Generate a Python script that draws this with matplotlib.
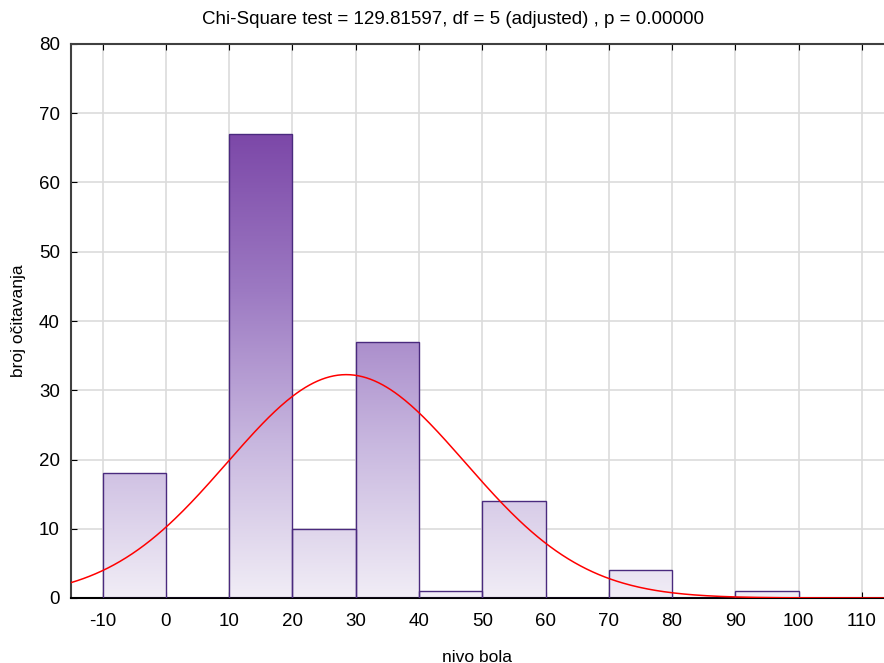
import numpy as np
import matplotlib
matplotlib.use("Agg")
import matplotlib.pyplot as plt
from matplotlib.colors import LinearSegmentedColormap

plt.rcParams["font.family"] = ["Liberation Sans", "DejaVu Sans"]
plt.rcParams["axes.unicode_minus"] = False

# Histogram bins (left edges) and counts
bin_left = [-10, 0, 10, 20, 30, 40, 50, 60, 70, 80, 90, 100]
counts = [18, 0, 67, 10, 37, 1, 14, 0, 4, 0, 1, 0]
bin_width = 10

# fitted normal curve parameters
fit_mean = 28.5
fit_sd = 18.8
n_total = sum(counts)

x_ticks = [-10, 0, 10, 20, 30, 40, 50, 60, 70, 80, 90, 100, 110]
y_ticks = [0, 10, 20, 30, 40, 50, 60, 70, 80]

fig = plt.figure(figsize=(8.84, 6.63), dpi=100)
ax = fig.add_axes([71 / 884, 1 - 598 / 663, 1 - 71 / 884, (598 - 44) / 663])

ax.set_xlim(-15, 113.5)
ax.set_ylim(0, 80)

# gradient fill bars
cmap = LinearSegmentedColormap.from_list(
    "purp", ["#f1edf6", "#c8b7df", "#9c79c2", "#7c48a8"])
top = max(counts)
grad = np.linspace(0, 1, 256).reshape(-1, 1)

bars = ax.bar(bin_left, counts, width=bin_width, align="edge",
              facecolor="none", edgecolor="#4a2a7e", linewidth=1.0, zorder=3)
for b in bars:
    h = b.get_height()
    if h <= 0:
        continue
    im = ax.imshow(grad, extent=[-15, 113.5, 0, top], origin="lower",
                   cmap=cmap, aspect="auto", zorder=2)
    im.set_clip_path(b)

# normal curve
xs = np.linspace(-15, 113.5, 400)
ys = n_total * bin_width / (fit_sd * np.sqrt(2 * np.pi)) * np.exp(-(xs - fit_mean) ** 2 / (2 * fit_sd ** 2))
ax.plot(xs, ys, color="#ff0000", linewidth=1.1, zorder=4)

ax.set_xlim(-15, 113.5)
ax.set_ylim(0, 80)
ax.set_xticks(x_ticks)
ax.set_yticks(y_ticks)
ax.grid(True, color="#dcdcdc", linewidth=1.2, zorder=0)
ax.set_axisbelow(True)

ax.tick_params(axis="both", direction="in", length=4, labelsize=13.5,
               colors="black", top=True, right=False)
ax.tick_params(axis="x", pad=11)
ax.tick_params(axis="y", pad=8)
ax.spines["right"].set_visible(False)
for s in ["top", "left"]:
    ax.spines[s].set_color("#404040")
    ax.spines[s].set_linewidth(1.5)
ax.spines["bottom"].set_color("black")
ax.spines["bottom"].set_linewidth(1.5)

fig.text(453 / 884, 1 - 20 / 663,
         "Chi-Square test = 129.81597, df = 5 (adjusted) , p = 0.00000",
         fontsize=13.5, ha="center", va="center")
ax.set_xlabel("nivo bola", fontsize=12.5, labelpad=14)
ax.set_ylabel("broj očitavanja", fontsize=12.5, labelpad=9)

plt.savefig("out.png", dpi=100)
